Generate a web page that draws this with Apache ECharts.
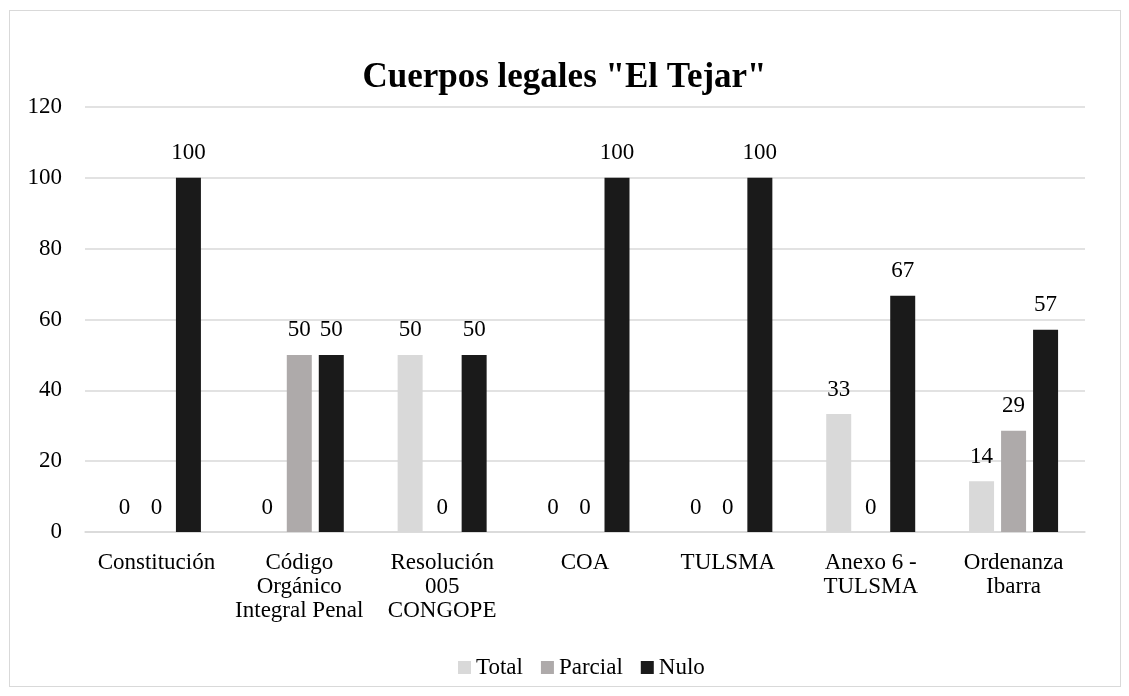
<!DOCTYPE html>
<html>
<head>
<meta charset="utf-8">
<script src="https://cdn.jsdelivr.net/npm/echarts@6/dist/echarts.min.js"></script>
<style>
  html, body { margin: 0; padding: 0; background: #fff; }
  #frame { position: absolute; left: 9px; top: 10px; width: 1110px; height: 675px; border: 1px solid #d9d9d9; }
  #chart { width: 1129px; height: 696px; }
</style>
</head>
<body>
<div id="frame"></div>
<div id="chart"></div>
<script>
// categorías y valores (%)
const categories = ['Constitución', 'Código\nOrgánico\nIntegral Penal', 'Resolución\n005\nCONGOPE', 'COA', 'TULSMA', 'Anexo 6 -\nTULSMA', 'Ordenanza\nIbarra'];
const totalData = [0, 0, 50, 0, 0, 33.3, 14.3];
const parcialData = [0, 50, 0, 0, 0, 0, 28.6];
const nuloData = [100, 50, 50, 100, 100, 66.7, 57.1];

const font = 'Liberation Serif';
const fs = 23;

function serie(name, data, color) {
    return {
        name: name,
        type: 'bar',
        data: data,
        barWidth: 25,
        barGap: '28%',
        itemStyle: { color: color },
        label: {
            show: true,
            position: 'top',
            distance: 13,
            color: '#000',
            fontFamily: font,
            fontSize: fs,
            formatter: (p) => Math.round(p.value)
        },
        animation: false
    };
}

let myChart = echarts.init(document.getElementById('chart'));
myChart.setOption({
    title: {
        text: 'Cuerpos legales "El Tejar"',
        left: 'center',
        top: 55,
        textStyle: { fontFamily: font, fontSize: 35, fontWeight: 'bold', color: '#000' }
    },
    legend: {
        bottom: 12,
        left: 453,
        itemWidth: 13,
        itemHeight: 13,
        itemGap: 18,
        icon: 'rect',
        textStyle: { fontFamily: font, fontSize: fs, color: '#000' },
        data: ['Total', 'Parcial', 'Nulo']
    },
    grid: { left: 85, right: 44, top: 107, bottom: 164 },
    xAxis: {
        type: 'category',
        data: categories,
        axisLine: { lineStyle: { color: '#d9d9d9', width: 1.5 } },
        axisTick: { show: false },
        axisLabel: { fontFamily: font, fontSize: fs, color: '#000', margin: 19, lineHeight: 24, interval: 0 }
    },
    yAxis: {
        type: 'value',
        min: 0,
        max: 120,
        interval: 20,
        axisLine: { show: false },
        axisTick: { show: false },
        splitLine: { lineStyle: { color: '#d9d9d9', width: 1.5 } },
        axisLabel: { fontFamily: font, fontSize: fs, color: '#000', margin: 23 }
    },
    series: [
        serie('Total', totalData, '#d9d9d9'),
        serie('Parcial', parcialData, '#aeaaaa'),
        serie('Nulo', nuloData, '#1a1a1a')
    ]
});
</script>
</body>
</html>
